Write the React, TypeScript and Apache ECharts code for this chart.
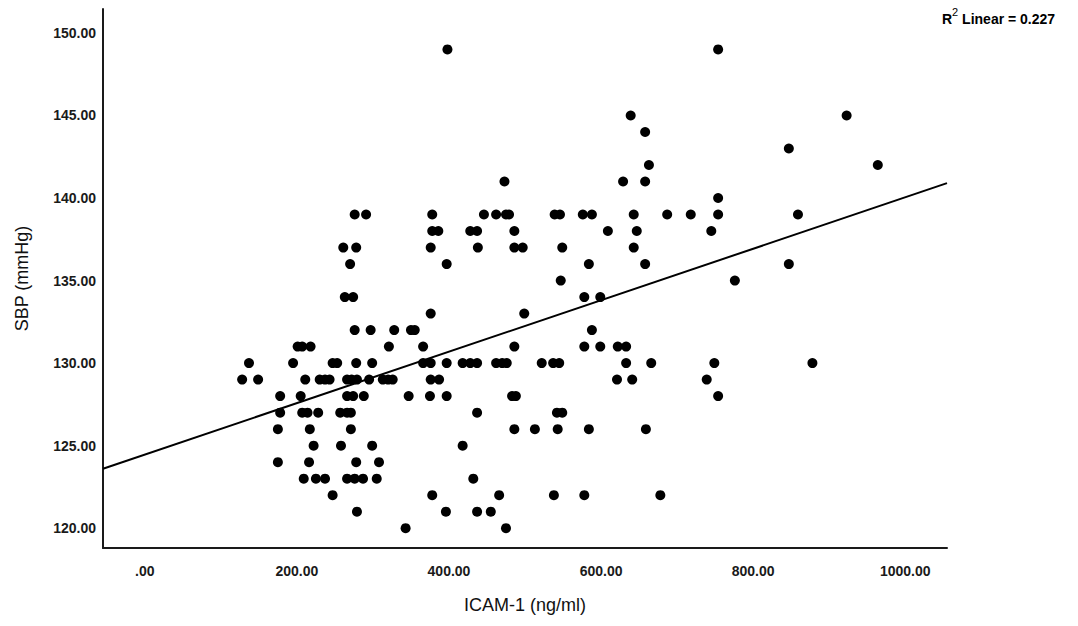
import React, { useEffect, useRef } from "react";
import * as echarts from "echarts";

// SBP levels (mmHg) and the ICAM-1 values (ng/ml) observed at each level
const sbpLevels = [149, 145, 144, 143, 142, 141, 140, 139, 138, 137, 136, 135, 134, 133, 132, 131, 130, 129, 128, 127, 126, 125, 124, 123, 122, 121, 120];
const icamByLevel: number[][] = [
  [398, 754],
  [639, 923],
  [658],
  [847],
  [663, 964],
  [473, 629, 658],
  [754],
  [276, 291, 378, 446, 462, 475, 479, 539, 546, 576, 588, 643, 687, 718, 754, 859],
  [378, 386, 428, 437, 486, 609, 647, 745],
  [261, 278, 376, 438, 486, 497, 549, 643],
  [270, 397, 584, 658, 847],
  [547, 776],
  [263, 274, 578, 599],
  [376, 499],
  [276, 297, 328, 350, 355, 588],
  [201, 207, 218, 321, 366, 486, 578, 599, 622, 633],
  [137, 195, 247, 253, 278, 299, 366, 376, 397, 418, 428, 437, 462, 470, 476, 522, 537, 545, 633, 666, 749, 878],
  [128, 149, 211, 230, 237, 243, 266, 272, 279, 295, 313, 320, 326, 376, 387, 621, 641, 739],
  [178, 205, 266, 274, 288, 347, 375, 397, 483, 488, 754],
  [178, 207, 214, 228, 257, 266, 271, 437, 542, 549],
  [175, 217, 271, 486, 513, 543, 584, 659],
  [222, 258, 299, 418],
  [175, 216, 278, 308],
  [209, 225, 237, 266, 276, 287, 305, 432],
  [247, 378, 466, 538, 578, 678],
  [279, 396, 437, 455],
  [343, 475],
];

// Fit line (linear regression) end points
const fitX = [-55, 1055];
const fitY = [123.6, 140.9];
const rSquared = "0.227";

const xTicks = [0, 200, 400, 600, 800, 1000];
const yTicks = [120, 125, 130, 135, 140, 145, 150];

const fmt = (v: number) => (v === 0 ? ".00" : v.toFixed(2));

export default function App() {
  const ref = useRef<HTMLDivElement>(null);
  useEffect(() => {
    document.body.style.margin = "0";
    const chart = echarts.init(ref.current!, null, { renderer: "svg" });
    const points: number[][] = [];
    sbpLevels.forEach((s, i) => icamByLevel[i].forEach((x) => points.push([x, s])));
    const font = "'Liberation Sans', Arial, sans-serif";
    chart.setOption({
      animation: false,
      backgroundColor: "#ffffff",
      grid: { left: 103, right: 131, top: 9, bottom: 78 },
      xAxis: {
        type: "value",
        min: -55,
        max: 1055,
        name: "ICAM-1 (ng/ml)",
        nameLocation: "middle",
        nameGap: 48,
        nameTextStyle: { fontFamily: font, fontSize: 18, color: "#111" },
        axisLine: { show: true, onZero: false, lineStyle: { color: "#1a1a1a", width: 2 } },
        axisTick: { show: false },
        splitLine: { show: false },
        axisLabel: {
          customValues: xTicks,
          formatter: (v: number) => fmt(v),
          fontFamily: font,
          fontWeight: "bold",
          fontSize: 14,
          color: "#1a1a1a",
          margin: 16,
        },
      },
      yAxis: {
        type: "value",
        min: 118.8,
        max: 151.45,
        name: "SBP (mmHg)",
        nameLocation: "middle",
        nameGap: 72,
        nameRotate: 90,
        nameTextStyle: { fontFamily: font, fontSize: 18, color: "#111" },
        axisLine: { show: true, onZero: false, lineStyle: { color: "#1a1a1a", width: 2 } },
        axisTick: { show: false },
        splitLine: { show: false },
        axisLabel: {
          customValues: yTicks,
          formatter: (v: number) => fmt(v),
          fontFamily: font,
          fontWeight: "bold",
          fontSize: 14,
          color: "#1a1a1a",
          margin: 7,
        },
      },
      graphic: [
        {
          type: "text",
          left: 942,
          top: 6,
          style: {
            text: "{a|R}{s|2}{a| Linear = " + rSquared + "}",
            rich: {
              a: { fontFamily: font, fontWeight: "bold", fontSize: 14, color: "#111", lineHeight: 20, verticalAlign: "bottom" },
              s: { fontFamily: font, fontSize: 11, color: "#111", lineHeight: 20, verticalAlign: "top" },
            },
          },
        },
      ],
      series: [
        {
          type: "scatter",
          data: points,
          symbol: "circle",
          symbolSize: 10,
          itemStyle: { color: "#000", opacity: 1 },
          silent: true,
        },
        {
          type: "line",
          data: fitX.map((x, i) => [x, fitY[i]]),
          showSymbol: false,
          lineStyle: { color: "#000", width: 2 },
          silent: true,
        },
      ],
    });
    return () => chart.dispose();
  }, []);
  return <div ref={ref} style={{ width: 1078, height: 626 }} />;
}
